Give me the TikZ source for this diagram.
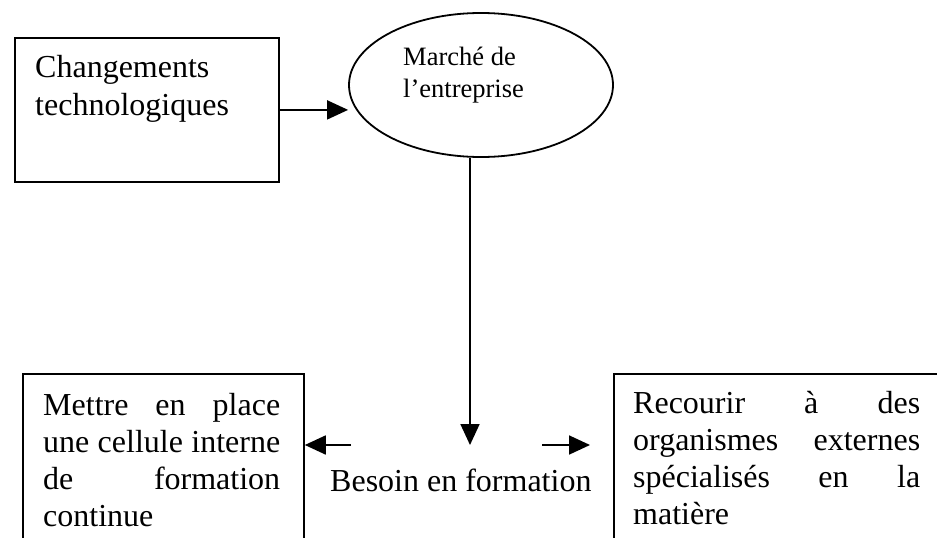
\documentclass[tikz,border=0pt]{standalone}
\usepackage{fontspec}
\setmainfont{Liberation Serif}
\usetikzlibrary{arrows.meta,shapes.geometric}
\newcommand\bigtxt{\fontsize{32}{37}\selectfont}
\newcommand\midtxt{\fontsize{26.5}{32}\selectfont}
\begin{document}
\begin{tikzpicture}[x=1pt,y=-1pt,
  box/.style={draw,line width=1.8pt,rectangle,inner sep=0pt,anchor=north west},
  oval/.style={draw,line width=1.8pt,ellipse,inner sep=0pt},
  txt/.style={inner sep=0pt,anchor=base west},
  arr/.style={line width=1.8pt,-{Triangle[length=21pt,width=19pt]}}]
\useasboundingbox (0,0) rectangle (937,538);
\clip (0,0) rectangle (937,538);
% boxes
\node[box,minimum width=264pt,minimum height=144pt] (tech) at (14,37) {};
\node[oval,minimum width=264pt,minimum height=144pt] (marche) at (481,85) {};
\node[box,minimum width=281pt,minimum height=220pt] (interne) at (22,373) {};
\node[box,minimum width=360pt,minimum height=220pt] (externe) at (613,373) {};
% texts
\node[txt] (techtxt) at (35,77) {\parbox[t]{240pt}{\fontsize{32}{38}\selectfont Changements\\technologiques}};
\node[txt] (marchetxt) at (403,65) {\parbox[t]{160pt}{\midtxt Marché de\\l’entreprise}};
\node[txt] (internetxt) at (43,415) {\parbox[t]{237pt}{\bigtxt
  \makebox[\linewidth][s]{Mettre en place}\\
  \makebox[\linewidth][s]{une cellule interne}\\
  \makebox[\linewidth][s]{de formation}\\
  continue}};
\node[txt] (externetxt) at (633,413) {\parbox[t]{287pt}{\bigtxt
  \makebox[\linewidth][s]{Recourir à des}\\
  \makebox[\linewidth][s]{organismes externes}\\
  \makebox[\linewidth][s]{spécialisés en la}\\
  matière}};
\node[txt] (besoin) at (330,491) {\bigtxt Besoin en formation};
% connectors
\draw[arr] (tech.east) -- (tech.east -| marche.west);
\coordinate (vdown) at (470,445);
\draw[arr] (marche.south -| vdown) -- (vdown);
\coordinate (lstart) at (351,445);
\draw[arr] (lstart) -- (lstart -| interne.east);
\coordinate (rstart) at (542,445);
\coordinate (rend) at (590,445);
\draw[arr] (rstart) -- (rend);
\end{tikzpicture}
\end{document}
